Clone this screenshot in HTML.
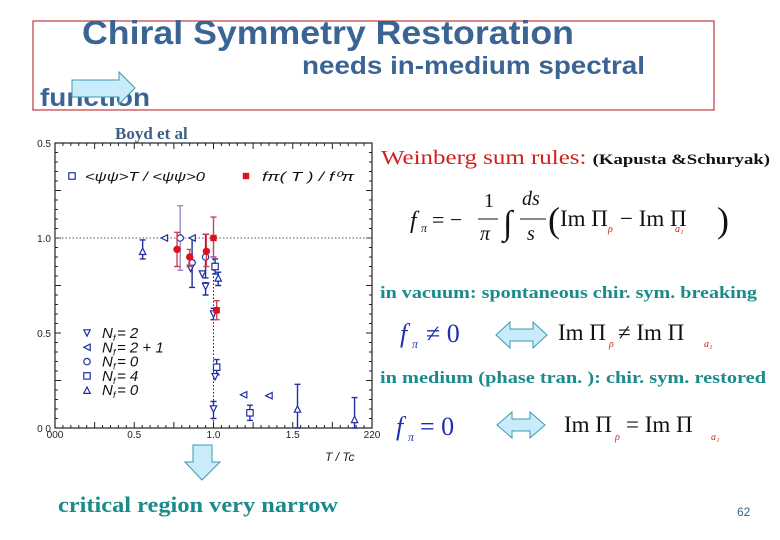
<!DOCTYPE html>
<html><head><meta charset="utf-8"><style>
body{margin:0;background:#fff;}
svg{display:block;}
.sf{font-family:"Liberation Serif",serif;}
.ss{font-family:"Liberation Sans",sans-serif;}
</style></head><body>
<svg width="780" height="540" viewBox="0 0 780 540" xmlns="http://www.w3.org/2000/svg">
<rect x="33" y="21" width="681" height="89" fill="none" stroke="#c0393b" stroke-width="1.2"/>
<text x="82" y="44" class="ss" font-size="33" font-weight="bold" fill="#3a6494" textLength="492" lengthAdjust="spacingAndGlyphs">Chiral Symmetry Restoration</text>
<text x="302" y="74" class="ss" font-size="25" font-weight="bold" fill="#3a6494" textLength="343" lengthAdjust="spacingAndGlyphs">needs in-medium spectral</text>
<text x="40" y="106" class="ss" font-size="25" font-weight="bold" fill="#3a6494" textLength="110" lengthAdjust="spacingAndGlyphs">function</text>
<polygon points="72,80 119,80 119,72 135,88 119,104 119,97 72,97" fill="#c9ecfb" stroke="#3a9ab0" stroke-width="1"/>
<text x="115" y="139" class="sf" font-size="17" font-weight="bold" fill="#3e5f86">Boyd et al</text>

<g id="chart"></g>

<text x="381" y="164" class="sf" font-size="20" fill="#d0201c" textLength="389" lengthAdjust="spacingAndGlyphs">Weinberg sum rules: <tspan font-size="15" font-weight="bold" fill="#111">(Kapusta &amp;Schuryak)</tspan></text>
<g class="sf" fill="#111">
<text x="410" y="228" font-size="24" font-style="italic">f</text><text x="421" y="232" font-size="12" font-style="italic">π</text>
<text x="432" y="227" font-size="22">= −</text>
<text x="484" y="207" font-size="20">1</text><line x1="478" y1="219" x2="498" y2="219" stroke="#111"/><text x="480" y="240" font-size="20" font-style="italic">π</text>
<text x="503" y="234" font-size="34">∫</text>
<text x="522" y="205" font-size="20" font-style="italic">ds</text><line x1="520" y1="219" x2="546" y2="219" stroke="#111"/><text x="527" y="240" font-size="20" font-style="italic">s</text>
<text x="548" y="232" font-size="36">(</text>
<text x="560" y="226" font-size="23">Im Π</text><text x="608" y="232" font-size="10" font-style="italic" fill="#d0201c">ρ</text>
<text x="620" y="226" font-size="23">− Im Π</text><text x="675" y="232" font-size="10" font-style="italic" fill="#d0201c">a₁</text>
<text x="717" y="232" font-size="36">)</text>
</g>
<text x="380" y="298" class="sf" font-size="16.5" font-weight="bold" fill="#1a8a8a" textLength="377" lengthAdjust="spacingAndGlyphs">in vacuum: spontaneous chir. sym. breaking</text>
<g class="sf">
<text x="400" y="342" font-size="26" font-style="italic" fill="#1c2fb0">f</text><text x="412" y="348" font-size="12" font-style="italic" fill="#1c2fb0">π</text>
<text x="426" y="342" font-size="26" fill="#1c2fb0">≠ 0</text>
<polygon points="496,335 510,322 510,329 533,329 533,322 547,335 533,348 533,341 510,341 510,348" fill="#c9ecfb" stroke="#3a9ab0"/>
<text x="558" y="340" font-size="23" fill="#111">Im Π</text><text x="609" y="347" font-size="10" font-style="italic" fill="#d0201c">ρ</text>
<text x="618" y="340" font-size="23" fill="#111">≠ Im Π</text><text x="704" y="347" font-size="10" font-style="italic" fill="#d0201c">a₁</text>
</g>
<text x="380" y="383" class="sf" font-size="16.5" font-weight="bold" fill="#1a8a8a" textLength="386" lengthAdjust="spacingAndGlyphs">in medium (phase tran. ):  chir. sym. restored</text>
<g class="sf">
<text x="396" y="435" font-size="26" font-style="italic" fill="#1c2fb0">f</text><text x="408" y="441" font-size="12" font-style="italic" fill="#1c2fb0">π</text>
<text x="420" y="435" font-size="26" fill="#1c2fb0">= 0</text>
<polygon points="497,425 512,412 512,419 530,419 530,412 545,425 530,438 530,431 512,431 512,438" fill="#c9ecfb" stroke="#3a9ab0"/>
<text x="564" y="432" font-size="23" fill="#111">Im Π</text><text x="615" y="440" font-size="10" font-style="italic" fill="#d0201c">ρ</text>
<text x="626" y="432" font-size="23" fill="#111">= Im Π</text><text x="711" y="440" font-size="10" font-style="italic" fill="#d0201c">a₁</text>
</g>
<polygon points="193,445 212,445 212,462 220,462 202,480 185,462 193,462" fill="#c9ecfb" stroke="#3a9ab0"/>
<text x="58" y="512" class="sf" font-size="22" font-weight="bold" fill="#1a8a8a" textLength="280" lengthAdjust="spacingAndGlyphs">critical region very  narrow</text>
<text x="737" y="516" class="ss" font-size="12" fill="#3a6494">62</text>
</svg>
<script>
const blueT=[0.553,0.69,0.79,0.865,0.855,0.865,0.95,0.93,0.95,1.01,1.03,1.0,1.02,1.01,1.0,1.19,1.35,1.23,1.53,1.89];
const blueV=[0.93,1.0,1.0,0.87,0.84,1.0,0.90,0.81,0.745,0.85,0.79,0.60,0.32,0.27,0.10,0.175,0.17,0.08,0.10,0.045];
const blueHi=[0.99,1.0,1.17,1.0,0.84,1.0,1.02,0.81,0.765,0.89,0.82,0.63,0.36,0.27,0.14,0.175,0.17,0.12,0.23,0.16];
const blueLo=[0.89,1.0,0.83,0.74,0.84,1.0,0.79,0.81,0.70,0.81,0.75,0.57,0.28,0.27,0.05,0.175,0.17,0.04,0.0,0.0];
const blueM=["tu","tl","c","c","td","tl","c","td","td","s","tu","td","s","td","td","tl","tl","s","tu","tu"];
const redT=[0.77,0.85,0.955,1.0,1.02];
const redV=[0.94,0.90,0.93,1.0,0.62];
const redHi=[1.03,0.94,1.02,1.11,0.67];
const redLo=[0.85,0.85,0.85,0.90,0.57];
const xTicks=["000","0.5","1.0","1.5","220"];
const xTickVals=[0,0.5,1,1.5,2];
const yTickVals=[0,0.5,1,1.5];
const yTicks=["0 0","0.5","1.0","0.5"];
const X0=55,X1=372,Y0=428,Y1=143;
const sx=t=>X0+t*(X1-X0)/2;
const sy=v=>Y0-v*(Y0-Y1)/1.5;
const NS="http://www.w3.org/2000/svg";
const g=document.getElementById('chart');
function mk(tag,a,p){const e=document.createElementNS(NS,tag);for(const k in a)e.setAttribute(k,a[k]);(p||g).appendChild(e);return e;}
const fr=mk('rect',{x:X0,y:Y1,width:X1-X0,height:Y0-Y1,fill:'none',stroke:'#222','stroke-width':1.2});


for(let i=0;i<=40;i++){const x=sx(i*0.05),L=i%5==0?6:3;mk('line',{x1:x,y1:Y0,x2:x,y2:Y0-L,stroke:'#222'});mk('line',{x1:x,y1:Y1,x2:x,y2:Y1+L,stroke:'#222'});}
for(let i=0;i<=30;i++){const y=sy(i*0.05),L=i%5==0?6:3;mk('line',{x1:X0,y1:y,x2:X0+L,y2:y,stroke:'#222'});mk('line',{x1:X1,y1:y,x2:X1-L,y2:y,stroke:'#222'});}
xTickVals.forEach((v,i)=>{const t=mk('text',{x:sx(v),y:Y0+10,'text-anchor':'middle','font-size':10,'font-family':'Liberation Sans',fill:'#222'});t.textContent=xTicks[i];

});
yTickVals.forEach((v,i)=>{const t=mk('text',{x:X0-4,y:sy(v)+4,'text-anchor':'end','font-size':10,'font-family':'Liberation Sans',fill:'#222'});t.textContent=yTicks[i];

});
const xt=mk('text',{x:325,y:461,'font-size':12,'font-style':'italic','font-family':'Liberation Sans',fill:'#222'});xt.textContent='T / Tc';


mk('line',{x1:X0,y1:sy(1),x2:X1,y2:sy(1),stroke:'#555','stroke-dasharray':'1.5,2'});
mk('line',{x1:sx(1),y1:sy(1),x2:sx(1),y2:Y0,stroke:'#222','stroke-dasharray':'1.5,2'});
function marker(m,x,y,col){const s=3.2;let e;
if(m=='c')e=mk('circle',{cx:x,cy:y,r:s,fill:'#fff',stroke:col,'stroke-width':1.2});
else if(m=='s')e=mk('rect',{x:x-s,y:y-s,width:2*s,height:2*s,fill:'#fff',stroke:col,'stroke-width':1.2});
else if(m=='fs')e=mk('rect',{x:x-s,y:y-s,width:2*s,height:2*s,fill:col});
else if(m=='fc')e=mk('circle',{cx:x,cy:y,r:s+0.5,fill:col});
else{let p;if(m=='tu')p=[[x,y-s],[x-s,y+s],[x+s,y+s]];else if(m=='td')p=[[x,y+s],[x-s,y-s],[x+s,y-s]];else p=[[x-s,y],[x+s,y-s],[x+s,y+s]];
e=mk('polygon',{points:p.map(q=>q.join(',')).join(' '),fill:'#fff',stroke:col,'stroke-width':1.2});}
return e;}
function eb(x,hi,lo,col){if(hi-lo<0.001)return;const a=sy(hi),b=sy(lo);const e=mk('path',{d:`M${x},${a}V${b}M${x-3},${a}H${x+3}M${x-3},${b}H${x+3}`,stroke:col,'stroke-width':1.4,fill:'none'});

}
blueT.forEach((t,i)=>{const x=sx(t);eb(x,blueHi[i],blueLo[i],i==2?'#9a8ac8':'#2030a0');const e=marker(blueM[i],x,sy(blueV[i]),'#2030a0');

});
redT.forEach((t,i)=>{const x=sx(t);eb(x,redHi[i],redLo[i],'#d04050');const e=marker(i==3||i==4?'fs':'fc',x,sy(redV[i]),'#dd1020');

});
const lg=[['td','N  = 2'],['tl','N  = 2 + 1'],['c','N  = 0'],['s','N  = 4'],['tu','N  = 0']];
lg.forEach((l,i)=>{const y=333+i*14.3;const m=marker(l[0],87,y,'#2030a0');


const t=mk('text',{x:102,y:y+5,'font-size':15,'font-style':'italic','font-family':'Liberation Sans',fill:'#111'});t.textContent=l[1];


const f=mk('text',{x:113,y:y+8,'font-size':9,'font-style':'italic','font-family':'Liberation Sans',fill:'#111'});f.textContent='f';});
marker('s',72,176,'#2030a0');
const t1=mk('text',{x:85,y:181,'font-size':13,'font-style':'italic','font-family':'Liberation Sans',fill:'#111',textLength:120,lengthAdjust:'spacingAndGlyphs'});t1.textContent='<ψψ>T / <ψψ>0';


marker('fs',246,176,'#dd1020');
const t2=mk('text',{x:262,y:181,'font-size':13,'font-style':'italic','font-family':'Liberation Sans',fill:'#111',textLength:92,lengthAdjust:'spacingAndGlyphs'});t2.textContent='fπ( T ) / f⁰π';


</script>
</body></html>
